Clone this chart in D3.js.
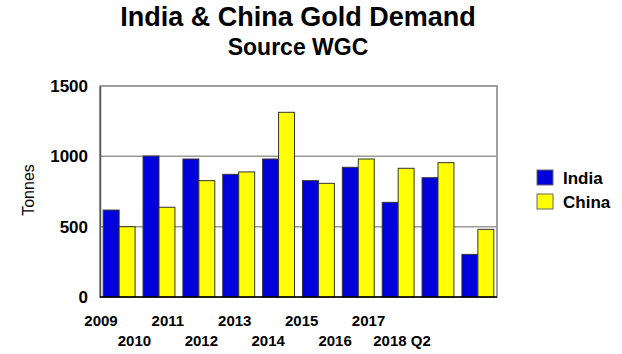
<!DOCTYPE html>
<html lang="en">
  <head>
    <meta charset="utf-8" />
    <title>India & China Gold Demand</title>
    <script src="https://d3js.org/d3.v7.min.js"></script>
    <style>
      body { margin: 0; background: #fff; }
      text { font-family: "Liberation Sans", Arial, sans-serif; }
    </style>
  </head>
  <body>
    <div id="chart"></div>
    <script>
      // values (tonnes)
      var years = ["2009", "2010", "2011", "2012", "2013", "2014", "2015", "2016", "2017", "2018 Q2"];
      var india = [618, 1002, 981, 872, 981, 827, 922, 673, 848, 303];
      var china = [500, 638, 827, 889, 1313, 808, 981, 915, 955, 481];
      var seriesNames = ["India", "China"];
      var seriesColors = ["#0000dd", "#ffff00"];
      var yTicks = [0, 500, 1000, 1500];

      var width = 622,
        height = 354;

      var svg = d3
        .select("#chart")
        .append("svg")
        .attr("width", width)
        .attr("height", height);

      // titles
      svg
        .append("text")
        .attr("x", 298)
        .attr("y", 26)
        .attr("text-anchor", "middle")
        .style("font-size", "27px")
        .style("font-weight", "bold")
        .text("India & China Gold Demand");

      svg
        .append("text")
        .attr("x", 298)
        .attr("y", 55)
        .attr("text-anchor", "middle")
        .style("font-size", "23px")
        .style("font-weight", "bold")
        .text("Source WGC");

      // plot box (note: "top" is taken by window.top)
      var plotL = 100,
        plotR = 497,
        plotT = 86,
        plotB = 297;

      var x = d3
        .scaleBand()
        .domain(years)
        .range([plotL, plotR])
        .paddingInner(0.2)
        .paddingOuter(0.08);

      var x1 = d3
        .scaleBand()
        .domain(seriesNames)
        .range([0, x.bandwidth()]);

      var y = d3.scaleLinear().domain([0, 1500]).range([plotB, plotT]);

      // the year labels sit on their own (narrower) spacing in the original
      var xLabel = d3.scalePoint().domain(years).range([101, 402]);

      // plot frame
      svg
        .append("rect")
        .attr("x", plotL)
        .attr("y", plotT)
        .attr("width", plotR - plotL)
        .attr("height", plotB - plotT)
        .attr("fill", "white")
        .attr("stroke", "#808080")
        .attr("stroke-width", 1.5);

      // gridlines
      svg
        .append("g")
        .selectAll("line")
        .data([500, 1000])
        .join("line")
        .attr("x1", plotL)
        .attr("x2", plotR)
        .attr("y1", function (d) { return y(d); })
        .attr("y2", function (d) { return y(d); })
        .attr("stroke", "#9a9a9a")
        .attr("stroke-width", 1.5);

      // y axis labels
      var yAxis = svg
        .append("g")
        .attr("transform", "translate(" + plotL + ",0)")
        .call(
          d3.axisLeft(y).tickValues(yTicks).tickFormat(d3.format("d")).tickSize(0).tickPadding(12)
        );
      yAxis.select(".domain").attr("stroke", "#555").attr("stroke-width", 1.5);
      yAxis
        .selectAll("text")
        .attr("fill", "#000")
        .style("font-size", "17px")
        .style("font-weight", "bold")
        .style("font-family", "'Liberation Sans', Arial, sans-serif");

      svg
        .append("text")
        .attr("transform", "translate(34,190) rotate(-90)")
        .attr("text-anchor", "middle")
        .style("font-size", "16px")
        .text("Tonnes");

      // bars
      var rows = years.map(function (yr, i) {
        return { year: yr, values: [india[i], china[i]] };
      });

      var groups = svg
        .append("g")
        .selectAll("g")
        .data(rows)
        .join("g")
        .attr("transform", function (d) {
          return "translate(" + x(d.year) + ",0)";
        });

      groups
        .selectAll("rect")
        .data(function (d) {
          return d.values.map(function (v, j) {
            return { name: seriesNames[j], value: v, color: seriesColors[j] };
          });
        })
        .join("rect")
        .attr("x", function (d) { return x1(d.name); })
        .attr("y", function (d) { return y(d.value); })
        .attr("width", x1.bandwidth())
        .attr("height", function (d) { return plotB - y(d.value); })
        .attr("fill", function (d) { return d.color; })
        .attr("stroke", "#333")
        .attr("stroke-width", 1);

      // bottom axis line
      svg
        .append("line")
        .attr("x1", plotL)
        .attr("x2", plotR)
        .attr("y1", plotB)
        .attr("y2", plotB)
        .attr("stroke", "#000")
        .attr("stroke-width", 1.5);

      // year labels, staggered in two rows
      svg
        .append("g")
        .selectAll("text")
        .data(years)
        .join("text")
        .attr("x", function (d) { return xLabel(d); })
        .attr("y", function (d, i) { return i % 2 === 0 ? 326 : 346; })
        .attr("text-anchor", "middle")
        .style("font-size", "15px")
        .style("font-weight", "bold")
        .text(function (d) { return d; });

      // legend
      var legend = svg
        .append("g")
        .selectAll("g")
        .data(seriesNames)
        .join("g")
        .attr("transform", function (d, i) {
          return "translate(537," + (170 + i * 24) + ")";
        });

      legend
        .append("rect")
        .attr("width", 16)
        .attr("height", 15)
        .attr("fill", function (d, i) { return seriesColors[i]; })
        .attr("stroke", "#666");

      legend
        .append("text")
        .attr("x", 26)
        .attr("y", 14)
        .style("font-size", "17px")
        .style("font-weight", "bold")
        .text(function (d) { return d; });
    </script>
  </body>
</html>
